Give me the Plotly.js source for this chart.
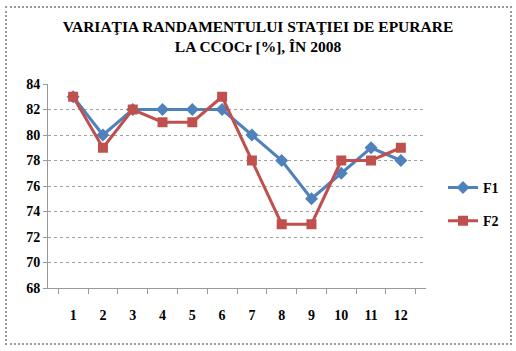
<!DOCTYPE html>
<html>
<head>
<meta charset="utf-8">
<script src="https://cdn.plot.ly/plotly-3.0.1.min.js"></script>
<style>
  body { margin: 0; padding: 0; background: #fff; }
  #chart { width: 516px; height: 351px; position: absolute; left: 0; top: 0; }
  #frame { position: absolute; left: 5px; top: 6px; width: 503px; height: 335px; border: 2px dotted #9a9a9a; pointer-events: none; }
</style>
</head>
<body>
<div id="chart"></div>
<div id="frame"></div>
<script>
const months = ['1','2','3','4','5','6','7','8','9','10','11','12'];
const f1 = [83, 80, 82, 82, 82, 82, 80, 78, 75, 77, 79, 78];
const f2 = [83, 79, 82, 81, 81, 83, 78, 73, 73, 78, 78, 79];
const yTicks = [68, 70, 72, 74, 76, 78, 80, 82, 84];

const serif = 'Liberation Serif, Times New Roman, serif';

const traces = [
  {
    x: months, y: f1, name: 'F1', type: 'scatter', mode: 'lines+markers',
    legendgroup: 'a',
    line: { color: '#4F81BD', width: 3 },
    marker: { symbol: 'diamond', size: 10, color: '#4F81BD' }
  },
  {
    x: months, y: f2, name: 'F2', type: 'scatter', mode: 'lines+markers',
    legendgroup: 'b',
    line: { color: '#C0504D', width: 3 },
    marker: { symbol: 'square', size: 10, color: '#C0504D' }
  }
];

const layout = {
  width: 516, height: 351,
  margin: { l: 48, r: 88, t: 84, b: 63 },
  paper_bgcolor: '#fff', plot_bgcolor: '#fff',
  font: { family: serif, color: '#000' },
  title: {
    text: 'VARIAŢIA RANDAMENTULUI STAŢIEI DE EPURARE<br>LA CCOCr [%], ÎN 2008',
    font: { family: serif, size: 15.5, weight: 'bold', color: '#000' },
    x: 0.5, xanchor: 'center', xref: 'container',
    yref: 'container', y: 0.91, yanchor: 'top'
  },
  xaxis: {
    type: 'category',
    tickson: 'boundaries',
    ticks: 'outside', ticklen: 5, tickcolor: '#999',
    showline: true, linecolor: '#999', linewidth: 1,
    showgrid: false, zeroline: false,
    tickfont: { family: serif, size: 14, weight: 'bold', color: '#000' },
    ticklabelstandoff: 14,
    fixedrange: true
  },
  yaxis: {
    range: [68, 84],
    tickvals: yTicks,
    ticktext: yTicks.map(String),
    ticks: 'outside', ticklen: 4, tickcolor: '#999',
    showline: true, linecolor: '#999', linewidth: 1,
    showgrid: true, gridcolor: '#a0a0a0', griddash: 'dot', gridwidth: 1,
    zeroline: false,
    tickfont: { family: serif, size: 14, weight: 'bold', color: '#000' },
    fixedrange: true
  },
  showlegend: true,
  legend: {
    x: 1.045, xanchor: 'left', y: 0.41, yanchor: 'middle',
    font: { family: serif, size: 14, weight: 'bold', color: '#000' },
    tracegroupgap: 12,
    itemwidth: 30,
    bgcolor: 'rgba(0,0,0,0)'
  }
};

Plotly.newPlot('chart', traces, layout, { displayModeBar: false, staticPlot: true });
</script>
</body>
</html>
